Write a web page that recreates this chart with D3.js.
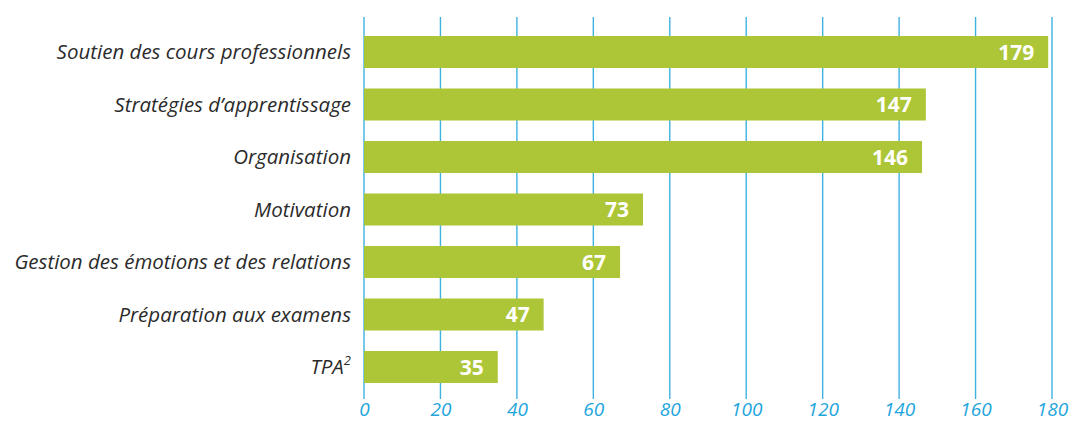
<!DOCTYPE html>
<html><head><meta charset="utf-8">
<script src="https://cdn.jsdelivr.net/npm/d3@7"></script>
<style>
body{margin:0;background:#fff;}
svg{display:block;}
</style></head>
<body>
<svg id="chart" width="1072" height="422"></svg>
<script>
const categories = ["Soutien des cours professionnels","Stratégies d\u2019apprentissage","Organisation","Motivation","Gestion des émotions et des relations","Préparation aux examens","TPA"];
const values = [179,147,146,73,67,47,35];
const tickValues = [0,20,40,60,80,100,120,140,160,180];

const svg = d3.select("#chart");
const x = d3.scaleLinear().domain([0,180]).range([364,1052]);
const y = d3.scaleBand().domain(categories).range([25.75,393.25]).paddingInner(0.39).paddingOuter(0.195);
const blue = "#1ea5dc", green = "#adc637";
const font = "'Open Sans', sans-serif";

// grid
svg.append("g").selectAll("line").data(tickValues).join("line")
  .attr("x1", d=>x(d)).attr("x2", d=>x(d)).attr("y1",17).attr("y2",399)
  .attr("stroke", blue).attr("stroke-width",1.4).attr("opacity",0.85);

// axis labels
const axis = d3.axisBottom(x).tickValues(tickValues).tickSize(0).tickPadding(0);
const ag = svg.append("g").attr("transform","translate(0,409)").call(axis);
ag.select(".domain").remove();
ag.selectAll("text").attr("fill",blue).attr("font-family",font).attr("font-style","italic")
  .attr("font-size","19px").attr("dy","0.36em");

// bars
svg.append("g").selectAll("rect").data(values).join("rect")
  .attr("x", x(0)).attr("y",(d,i)=>y(categories[i]))
  .attr("width", d=>x(d)-x(0)).attr("height", y.bandwidth()).attr("fill",green);

// value labels
svg.append("g").selectAll("text").data(values).join("text")
  .attr("x", d=>x(d)-14).attr("y",(d,i)=>y(categories[i])+y.bandwidth()/2)
  .attr("dy","0.36em").attr("text-anchor","end").attr("fill","#fff")
  .attr("font-family",font).attr("font-weight","bold").attr("font-size","21px")
  .text(d=>d);

// category labels
const cl = svg.append("g").selectAll("text").data(categories).join("text")
  .attr("x",351).attr("y",d=>y(d)+y.bandwidth()/2).attr("dy","0.36em")
  .attr("text-anchor","end").attr("fill","#2b2b2b").attr("font-family",font)
  .attr("font-style","italic").attr("font-size","20.5px");
cl.each(function(d){
  const t = d3.select(this);
  if(d==="TPA"){
    t.append("tspan").text("TPA");
    t.append("tspan").attr("baseline-shift","super").attr("font-size","13px").text("2");
  } else t.text(d);
});
</script>
</body></html>
